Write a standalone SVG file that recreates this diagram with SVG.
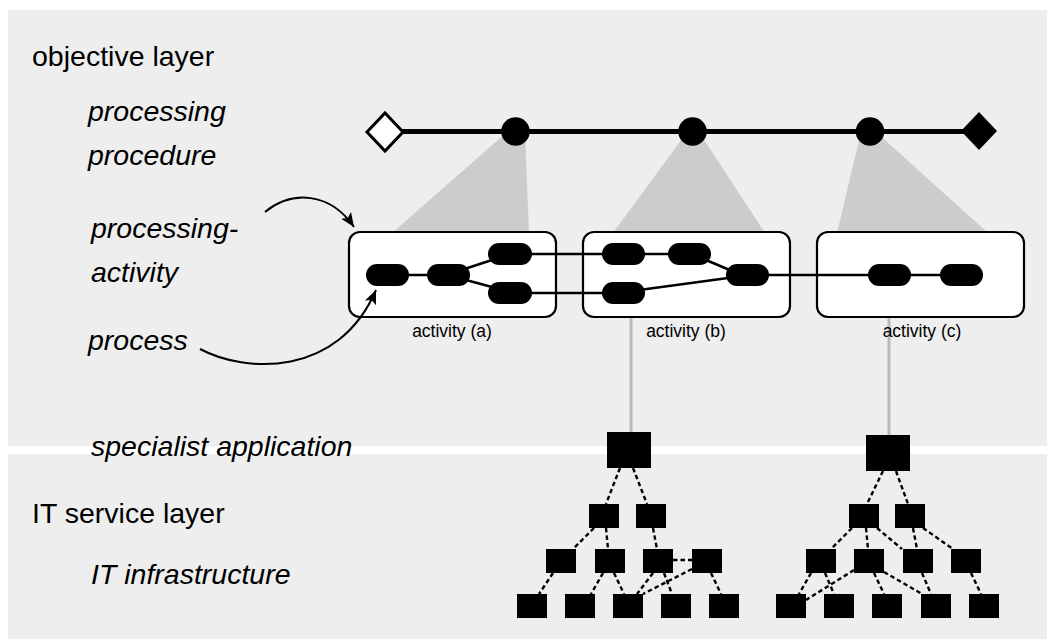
<svg xmlns="http://www.w3.org/2000/svg" width="1047" height="639" viewBox="0 0 1047 639">
<style>
.lbl{font-family:"Liberation Sans",Arial,sans-serif;font-size:28.5px;fill:#000}
.it{font-style:italic}
.act{font-family:"Liberation Sans",Arial,sans-serif;font-size:17.5px;fill:#000;text-anchor:middle}
.box{fill:#fff;stroke:#000;stroke-width:2.2}
.pill{fill:#000}
.ln{stroke:#000;stroke-width:2.5;fill:none}
.fan{fill:#cccccc}
.gl{stroke:#bbbbbb;stroke-width:3;fill:none}
.dash{stroke:#000;stroke-width:2.4;stroke-dasharray:4.5 3;fill:none}
.sq{fill:#000}
.cur{stroke:#000;stroke-width:2;fill:none}
</style>
<defs>
<marker id="ah" markerUnits="userSpaceOnUse" markerWidth="16" markerHeight="14" refX="14" refY="7" orient="auto">
<path d="M0,1 L14,7 L0,13 L3,7 Z" fill="#000"/>
</marker>
</defs>
<rect x="0" y="0" width="1047" height="639" fill="#fff"/>
<g id="objective-layer-panel"><rect x="8" y="10" width="1039" height="436" fill="#eeeeee"/></g>
<g id="it-service-layer-panel"><rect x="8" y="454" width="1039" height="185" fill="#eeeeee"/></g>

<g id="fans">
<polygon class="fan" points="507,132 525,132 529,233 392,233"/>
<polygon class="fan" points="687,132 699,132 765,233 613,233"/>
<polygon class="fan" points="861,132 876,132 988,233 837,233"/>
</g>

<g id="connectors">
<line class="ln" x1="400" y1="131.5" x2="965" y2="131.5" style="stroke-width:5"/>
<line class="gl" x1="631" y1="292" x2="631" y2="432"/>
<line class="gl" x1="889" y1="275" x2="889" y2="435"/>
</g>

<g id="procedure">
<polygon id="start" points="367,132 385,113 403,132 385,151" fill="#fff" stroke="#000" stroke-width="3"/>
<circle id="step1" cx="515.5" cy="131.5" r="14.3" fill="#000"/>
<circle id="step2" cx="692.5" cy="131.5" r="14.3" fill="#000"/>
<circle id="step3" cx="870" cy="131.5" r="14.3" fill="#000"/>
<polygon id="end" points="961,131 979,112 997,131 979,150" fill="#000"/>
</g>

<g id="activity-a">
<rect class="box" x="349" y="232" width="207" height="85" rx="11"/>
<text class="act" x="452" y="337">activity (a)</text>
</g>
<g id="activity-b">
<rect class="box" x="583" y="232" width="207" height="85" rx="11"/>
<text class="act" x="686" y="337">activity (b)</text>
</g>
<g id="activity-c">
<rect class="box" x="817" y="232" width="207" height="85" rx="11"/>
<text class="act" x="922" y="337">activity (c)</text>
</g>

<g id="process-links">
<line class="ln" x1="409" y1="275" x2="427" y2="275"/>
<line class="ln" x1="466" y1="268.5" x2="492" y2="260"/>
<line class="ln" x1="466" y1="280" x2="492" y2="287"/>
<line class="ln" x1="530" y1="254" x2="604" y2="254"/>
<line class="ln" x1="530" y1="293" x2="604" y2="293"/>
<line class="ln" x1="643" y1="254" x2="670" y2="254"/>
<line class="ln" x1="706" y1="260" x2="732" y2="271"/>
<line class="ln" x1="643" y1="289.5" x2="728" y2="278"/>
<line class="ln" x1="767" y1="275" x2="870" y2="275"/>
<line class="ln" x1="909" y1="275" x2="942" y2="275"/>
</g>

<g id="processes">
<rect class="pill" x="366" y="264" width="43" height="22" rx="11"/>
<rect class="pill" x="427" y="264" width="43" height="22" rx="11"/>
<rect class="pill" x="488" y="243" width="44" height="22" rx="11"/>
<rect class="pill" x="488" y="282" width="44" height="22" rx="11"/>
<rect class="pill" x="602" y="243" width="43" height="22" rx="11"/>
<rect class="pill" x="668" y="243" width="43" height="22" rx="11"/>
<rect class="pill" x="726" y="264" width="43" height="22" rx="11"/>
<rect class="pill" x="602" y="282" width="43" height="22" rx="11"/>
<rect class="pill" x="868" y="264" width="43" height="22" rx="11"/>
<rect class="pill" x="940" y="264" width="43" height="22" rx="11"/>
</g>

<g id="pointer-arrows">
<path class="cur" d="M265,212 C292,190 330,192 354,227" marker-end="url(#ah)"/>
<path class="cur" d="M200,349 C245,373 338,378 376,290" marker-end="url(#ah)"/>
</g>

<g id="tree1-links">
<line class="dash" x1="620" y1="468" x2="606" y2="504"/>
<line class="dash" x1="633" y1="468" x2="647" y2="504"/>
<line class="dash" x1="594" y1="528" x2="573" y2="549"/>
<line class="dash" x1="606" y1="528" x2="608" y2="549"/>
<line class="dash" x1="653" y1="528" x2="657" y2="549"/>
<line class="dash" x1="673" y1="560" x2="692" y2="560"/>
<line class="dash" x1="553" y1="573" x2="539" y2="594"/>
<line class="dash" x1="603" y1="573" x2="591" y2="594"/>
<line class="dash" x1="614" y1="573" x2="624" y2="594"/>
<line class="dash" x1="653" y1="573" x2="637" y2="594"/>
<line class="dash" x1="664" y1="573" x2="672" y2="594"/>
<line class="dash" x1="692" y1="569" x2="643" y2="594"/>
<line class="dash" x1="711" y1="573" x2="721" y2="594"/>
</g>
<g id="tree1">
<rect class="sq" x="607" y="432" width="44" height="36"/>
<rect class="sq" x="589" y="504" width="30" height="24"/>
<rect class="sq" x="636" y="504" width="30" height="24"/>
<rect class="sq" x="546" y="549" width="30" height="24"/>
<rect class="sq" x="595" y="549" width="30" height="24"/>
<rect class="sq" x="643" y="549" width="30" height="24"/>
<rect class="sq" x="692" y="549" width="30" height="24"/>
<rect class="sq" x="517" y="594" width="30" height="24"/>
<rect class="sq" x="565" y="594" width="30" height="24"/>
<rect class="sq" x="613" y="594" width="30" height="24"/>
<rect class="sq" x="661" y="594" width="30" height="24"/>
<rect class="sq" x="709" y="594" width="30" height="24"/>
</g>

<g id="tree2-links">
<line class="dash" x1="883" y1="471" x2="867" y2="504"/>
<line class="dash" x1="896" y1="471" x2="908" y2="504"/>
<line class="dash" x1="852" y1="528" x2="831" y2="549"/>
<line class="dash" x1="866" y1="528" x2="868" y2="549"/>
<line class="dash" x1="877" y1="528" x2="902" y2="549"/>
<line class="dash" x1="913" y1="528" x2="917" y2="549"/>
<line class="dash" x1="923" y1="528" x2="953" y2="549"/>
<line class="dash" x1="811" y1="573" x2="799" y2="594"/>
<line class="dash" x1="825" y1="573" x2="834" y2="594"/>
<line class="dash" x1="854" y1="570" x2="806" y2="600"/>
<line class="dash" x1="874" y1="573" x2="884" y2="594"/>
<line class="dash" x1="884" y1="572" x2="922" y2="594"/>
<line class="dash" x1="922" y1="573" x2="931" y2="594"/>
<line class="dash" x1="971" y1="573" x2="981" y2="594"/>
</g>
<g id="tree2">
<rect class="sq" x="866" y="435" width="44" height="36"/>
<rect class="sq" x="849" y="504" width="30" height="24"/>
<rect class="sq" x="895" y="504" width="30" height="24"/>
<rect class="sq" x="806" y="549" width="30" height="24"/>
<rect class="sq" x="854" y="549" width="30" height="24"/>
<rect class="sq" x="903" y="549" width="30" height="24"/>
<rect class="sq" x="951" y="549" width="30" height="24"/>
<rect class="sq" x="776" y="594" width="30" height="24"/>
<rect class="sq" x="824" y="594" width="30" height="24"/>
<rect class="sq" x="872" y="594" width="30" height="24"/>
<rect class="sq" x="921" y="594" width="30" height="24"/>
<rect class="sq" x="969" y="594" width="30" height="24"/>
</g>

<g id="labels">
<text class="lbl" x="32" y="66">objective layer</text>
<text class="lbl it" x="88" y="121">processing</text>
<text class="lbl it" x="88" y="165">procedure</text>
<text class="lbl it" x="91" y="238">processing-</text>
<text class="lbl it" x="91" y="282">activity</text>
<text class="lbl it" x="88" y="350">process</text>
<text class="lbl it" x="91" y="456">specialist application</text>
<text class="lbl" x="32" y="523">IT service layer</text>
<text class="lbl it" x="91" y="584">IT infrastructure</text>
</g>
</svg>
